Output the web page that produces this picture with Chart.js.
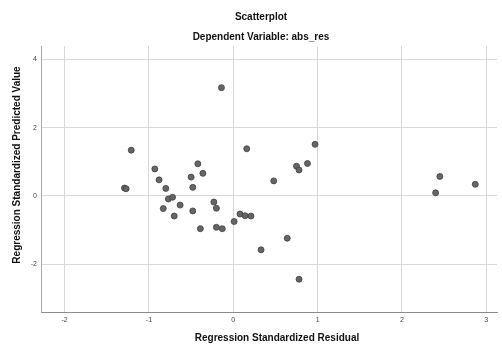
<!DOCTYPE html>
<html>
<head>
<meta charset="utf-8">
<script src="https://cdn.jsdelivr.net/npm/chart.js@4"></script>
<style>
  html, body { margin: 0; padding: 0; background: #fff; }
  #wrap { width: 502px; height: 345px; position: relative; }
</style>
</head>
<body>
<div id="wrap"><canvas id="myChart"></canvas></div>
<script>
// values
const residuals = [
  -0.14, -1.21, 0.16, 0.97, -0.93, -0.42, -0.36, -0.50, -0.88, -0.48,
  -0.80, -1.29, -1.27, 0.75, 0.78, 0.88, 0.48, -0.77, -0.72, -0.83,
  -0.63, -0.70, -0.48, -0.23, -0.20, -0.39, -0.20, -0.13, 0.01, 0.08,
  0.14, 0.21, 0.33, 0.64, 0.78, 2.45, 2.40, 2.87
];
const predicted = [
  3.17, 1.34, 1.38, 1.51, 0.79, 0.94, 0.66, 0.55, 0.47, 0.25,
  0.22, 0.23, 0.21, 0.87, 0.76, 0.95, 0.44, -0.09, -0.04, -0.37,
  -0.27, -0.59, -0.44, -0.18, -0.36, -0.96, -0.92, -0.96, -0.75, -0.53,
  -0.58, -0.59, -1.58, -1.24, -2.44, 0.57, 0.09, 0.34
];
const xTicks = [-2, -1, 0, 1, 2, 3];
const yTicks = [-2, 0, 2, 4];

const titleText = 'Scatterplot';
const subtitleText = 'Dependent Variable: abs_res';
const xTitle = 'Regression Standardized Residual';
const yTitle = 'Regression Standardized Predicted Value';

const points = residuals.map((r, i) => ({ x: r, y: predicted[i] }));

// titles drawn by hand so they sit where SPSS put them
const titlesPlugin = {
  id: 'titles',
  afterDraw(chart) {
    const c = chart.ctx;
    c.save();
    c.fillStyle = '#111';
    c.font = 'bold 10px "Liberation Sans", Arial, sans-serif';
    c.textAlign = 'center';
    c.textBaseline = 'middle';
    c.fillText(titleText, 261, 17);
    c.fillText(subtitleText, 261, 37);
    c.fillText(xTitle, 277, 338);
    c.translate(17, 165);
    c.rotate(-Math.PI / 2);
    c.fillText(yTitle, 0, 0);
    c.restore();
  }
};

const ctx = document.getElementById('myChart').getContext('2d');

const myChart = new Chart(ctx, {
  type: 'scatter',
  data: {
    datasets: [{
      data: points,
      backgroundColor: '#656565',
      borderColor: '#404040',
      borderWidth: 0.8,
      pointRadius: 3,
    }]
  },
  plugins: [titlesPlugin],
  options: {
    responsive: true,
    maintainAspectRatio: false,
    animation: false,
    layout: { padding: { top: 46, right: 0, left: 0, bottom: 0 } },
    plugins: {
      legend: { display: false },
      tooltip: { enabled: false }
    },
    scales: {
      x: {
        type: 'linear',
        min: -2.28,
        max: 3.13,
        afterBuildTicks: s => { s.ticks = xTicks.map(v => ({ value: v })); },
        afterFit: s => { s.height = 33; },
        ticks: {
          color: '#444',
          font: { size: 7, family: '"Liberation Sans", Arial, sans-serif' },
          padding: 4,
          maxRotation: 0,
        },
        grid: { color: '#d8d8d8', drawTicks: false },
        border: { color: '#8c8c8c', width: 1 }
      },
      y: {
        type: 'linear',
        min: -3.4,
        max: 4.39,
        afterBuildTicks: s => { s.ticks = yTicks.map(v => ({ value: v })); },
        afterFit: s => { s.width = 41; },
        ticks: {
          color: '#444',
          font: { size: 7, family: '"Liberation Sans", Arial, sans-serif' },
          padding: 4,
        },
        grid: { color: '#d8d8d8', drawTicks: false },
        border: { color: '#a8a8a8', width: 1 }
      }
    }
  }
});
</script>
</body>
</html>
